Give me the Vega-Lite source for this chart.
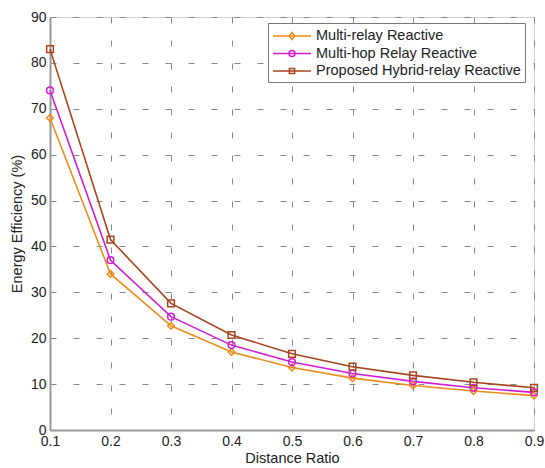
{
  "$schema": "https://vega.github.io/schema/vega-lite/v6.json",
  "width": 484,
  "height": 413,
  "autosize": {"type": "none"},
  "padding": {"left": 50, "top": 17, "right": 11, "bottom": 38},
  "background": "white",
  "config": {
    "font": "Liberation Sans",
    "view": {"stroke": "#cfcfcf", "strokeWidth": 1},
    "axis": {
      "labelFont": "Liberation Sans",
      "titleFont": "Liberation Sans",
      "labelFontSize": 14,
      "titleFontSize": 14.5,
      "titleFontWeight": "normal",
      "labelColor": "#222",
      "titleColor": "#222",
      "domainColor": "#999",
      "domainWidth": 2,
      "ticks": false,
      "grid": true,
      "gridColor": "#888",
      "gridDash": [6, 17],
      "gridWidth": 1,
      "gridOpacity": 1
    },
    "legend": {
      "orient": "none", "legendX": 218, "legendY": 6,
      "fillColor": "white", "strokeColor": "#777", "padding": 4,
      "labelFont": "Liberation Sans", "labelFontSize": 14.5, "labelColor": "#222",
      "symbolSize": 256, "symbolStrokeWidth": 1.5, "symbolFillColor": "transparent",
      "labelOffset": 26, "rowPadding": 1.5, "labelLimit": 300
    }
  },
  "data": {
    "values": [
      {"x": 0.1, "y": 68.0, "s": "Multi-relay Reactive"},
      {"x": 0.2, "y": 34.0, "s": "Multi-relay Reactive"},
      {"x": 0.3, "y": 22.7, "s": "Multi-relay Reactive"},
      {"x": 0.4, "y": 17.0, "s": "Multi-relay Reactive"},
      {"x": 0.5, "y": 13.6, "s": "Multi-relay Reactive"},
      {"x": 0.6, "y": 11.3, "s": "Multi-relay Reactive"},
      {"x": 0.7, "y": 9.7, "s": "Multi-relay Reactive"},
      {"x": 0.8, "y": 8.5, "s": "Multi-relay Reactive"},
      {"x": 0.9, "y": 7.5, "s": "Multi-relay Reactive"},
      {"x": 0.1, "y": 74.0, "s": "Multi-hop Relay Reactive"},
      {"x": 0.2, "y": 37.0, "s": "Multi-hop Relay Reactive"},
      {"x": 0.3, "y": 24.7, "s": "Multi-hop Relay Reactive"},
      {"x": 0.4, "y": 18.5, "s": "Multi-hop Relay Reactive"},
      {"x": 0.5, "y": 14.8, "s": "Multi-hop Relay Reactive"},
      {"x": 0.6, "y": 12.3, "s": "Multi-hop Relay Reactive"},
      {"x": 0.7, "y": 10.6, "s": "Multi-hop Relay Reactive"},
      {"x": 0.8, "y": 9.2, "s": "Multi-hop Relay Reactive"},
      {"x": 0.9, "y": 8.2, "s": "Multi-hop Relay Reactive"},
      {"x": 0.1, "y": 83.0, "s": "Proposed Hybrid-relay Reactive"},
      {"x": 0.2, "y": 41.5, "s": "Proposed Hybrid-relay Reactive"},
      {"x": 0.3, "y": 27.6, "s": "Proposed Hybrid-relay Reactive"},
      {"x": 0.4, "y": 20.7, "s": "Proposed Hybrid-relay Reactive"},
      {"x": 0.5, "y": 16.6, "s": "Proposed Hybrid-relay Reactive"},
      {"x": 0.6, "y": 13.8, "s": "Proposed Hybrid-relay Reactive"},
      {"x": 0.7, "y": 11.9, "s": "Proposed Hybrid-relay Reactive"},
      {"x": 0.8, "y": 10.4, "s": "Proposed Hybrid-relay Reactive"},
      {"x": 0.9, "y": 9.2, "s": "Proposed Hybrid-relay Reactive"}
    ]
  },
  "encoding": {
    "x": {
      "field": "x", "type": "quantitative", "title": "Distance Ratio",
      "scale": {"domain": [0.1, 0.9], "nice": false, "zero": false},
      "axis": {"grid": true, "values": [0.1, 0.2, 0.3, 0.4, 0.5, 0.6, 0.7, 0.8, 0.9], "format": ".1f", "labelPadding": 4, "titlePadding": 3, "labelFlush": false}
    },
    "y": {
      "field": "y", "type": "quantitative", "title": "Energy Efficiency (%)",
      "scale": {"domain": [0, 90], "nice": false},
      "axis": {"grid": true, "values": [0, 10, 20, 30, 40, 50, 60, 70, 80, 90], "labelPadding": 4, "titlePadding": 6}
    },
    "color": {
      "field": "s", "type": "nominal", "title": null,
      "scale": {"domain": ["Multi-relay Reactive", "Multi-hop Relay Reactive", "Proposed Hybrid-relay Reactive"], "range": ["#F08C1A", "#D21ED2", "#A8441E"]}
    }
  },
  "layer": [
    {
      "mark": {"type": "line", "strokeWidth": 1.6}
    },
    {
      "transform": [{"filter": "datum.s == 'Multi-relay Reactive'"}],
      "mark": {"type": "point", "shape": "diamond", "filled": false, "size": 45, "strokeWidth": 1.5, "opacity": 1}
    },
    {
      "transform": [{"filter": "datum.s == 'Multi-hop Relay Reactive'"}],
      "mark": {"type": "point", "shape": "circle", "filled": false, "size": 45, "strokeWidth": 1.5, "opacity": 1}
    },
    {
      "transform": [{"filter": "datum.s == 'Proposed Hybrid-relay Reactive'"}],
      "mark": {"type": "point", "shape": "square", "filled": false, "size": 45, "strokeWidth": 1.5, "opacity": 1}
    },
    {
      "transform": [{"filter": "datum.y < 0"}],
      "mark": {"type": "point", "filled": false, "strokeWidth": 1.5, "opacity": 1},
      "encoding": {
        "shape": {
          "field": "s", "type": "nominal", "title": null,
          "scale": {"domain": ["Multi-relay Reactive", "Multi-hop Relay Reactive", "Proposed Hybrid-relay Reactive"],
            "range": ["M-1,0H3.75M1.375,-0.45L1.725,0L1.375,0.45L1.025,0Z", "M-1,0H3.75M1.75,0A0.375,0.375 0 1,1 1,0A0.375,0.375 0 1,1 1.75,0", "M-1,0H3.75M1.05,-0.325H1.7V0.325H1.05Z"]}
        }
      }
    }
  ]
}
